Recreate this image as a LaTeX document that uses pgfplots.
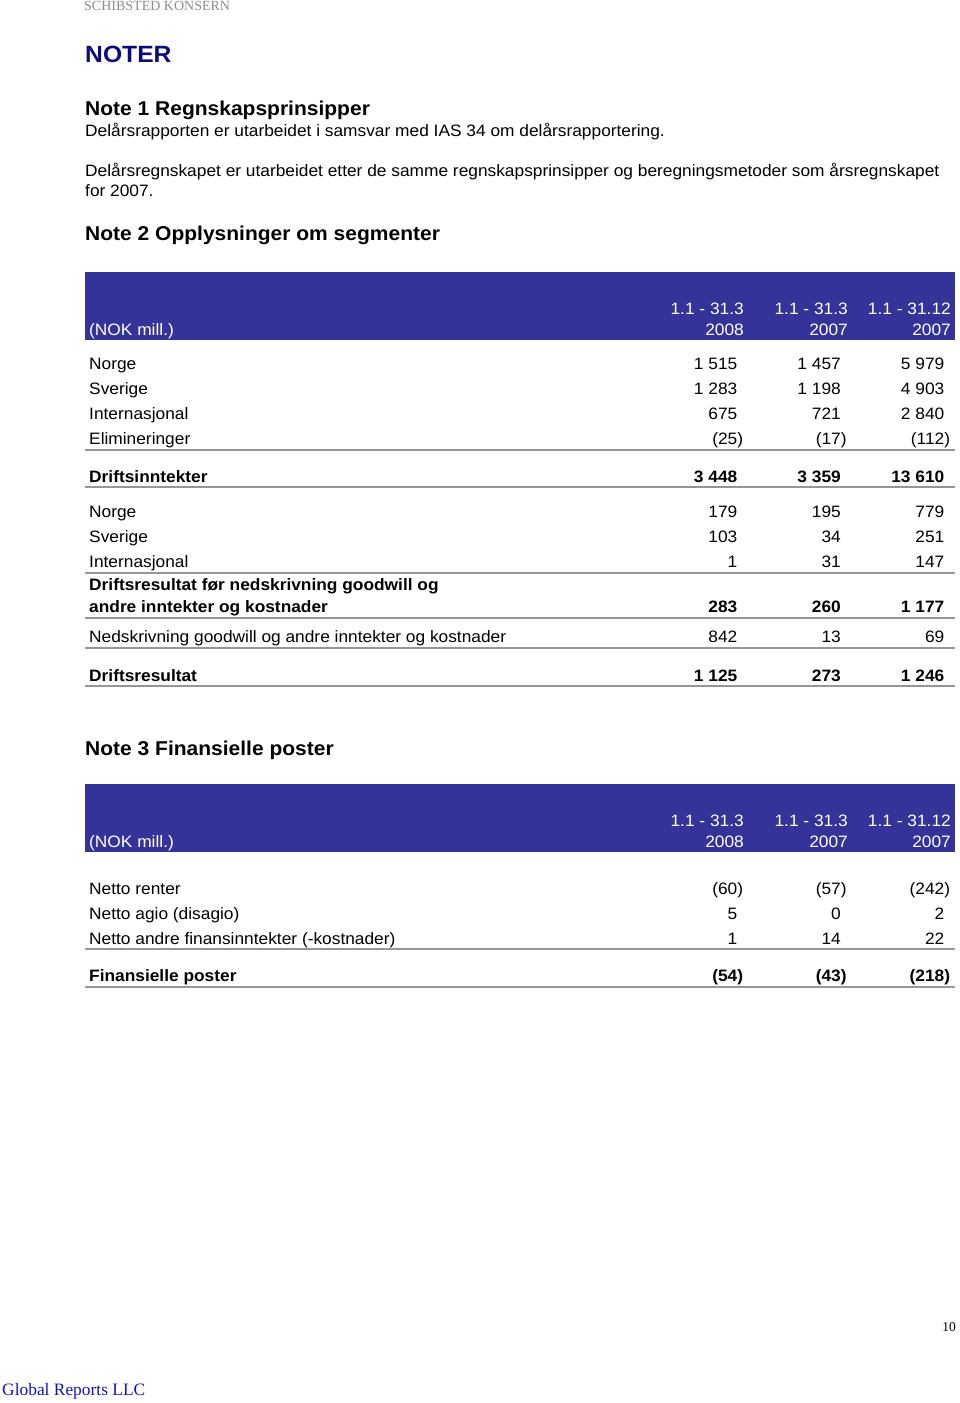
\documentclass[border=0pt]{standalone}
\usepackage{fontspec}
\setmainfont{Liberation Sans}[FakeStretch=1.05]
\newfontfamily\serif{Liberation Serif}
\usepackage{pgfplots}
\pgfplotsset{compat=1.18}

\definecolor{hdr}{RGB}{51,51,153}
\definecolor{navy}{RGB}{12,12,120}
\definecolor{rule}{RGB}{150,150,150}
\definecolor{greyhead}{RGB}{140,140,140}
\definecolor{gr}{RGB}{20,20,190}

\tikzset{
  txt/.style={anchor=base west, inner sep=0pt, font=\fontsize{16.5}{22}\selectfont},
  btxt/.style={txt, font=\fontsize{16.5}{22}\selectfont\bfseries},
  htxt/.style={anchor=base east, inner sep=0pt, text=white, font=\fontsize{16.5}{22}\selectfont},
  head/.style={anchor=base west, inner sep=0pt, font=\fontsize{20}{24}\selectfont\bfseries},
}

\begin{document}
\begin{tikzpicture}
\begin{axis}[
    width=960pt, height=1403pt, scale only axis,
    xmin=0, xmax=960, ymin=0, ymax=1403,
    y dir=reverse,
    hide axis, clip=false,
    point meta=explicit symbolic,
    nodes near coords,
    nodes near coords style={anchor=base east, inner sep=0pt, font=\fontsize{16.5}{22}\selectfont},
]
\path (axis cs:0,0) rectangle (axis cs:960,1403);

% page furniture
\node[anchor=base west, inner sep=0pt, text=greyhead, font=\serif\fontsize{14}{16}\selectfont] at (axis cs:84,10) {SCHIBSTED KONSERN};
\node[anchor=base west, inner sep=0pt, text=navy, font=\fontsize{23.5}{30}\selectfont\bfseries] at (axis cs:85,62) {NOTER};
\node[head] at (axis cs:85,115) {Note 1 Regnskapsprinsipper};
\node[txt] at (axis cs:85,136) {Delårsrapporten er utarbeidet i samsvar med IAS 34 om delårsrapportering.};
\node[txt] at (axis cs:85,176) {Delårsregnskapet er utarbeidet etter de samme regnskapsprinsipper og beregningsmetoder som årsregnskapet};
\node[txt] at (axis cs:85,196) {for 2007.};
\node[head] at (axis cs:85,240) {Note 2 Opplysninger om segmenter};
\node[head] at (axis cs:85,755) {Note 3 Finansielle poster};
\node[anchor=base east, inner sep=0pt, font=\serif\fontsize{13.5}{16}\selectfont] at (axis cs:956,1331) {10};
\node[anchor=base west, inner sep=0pt, text=gr, font=\serif\fontsize{17.4}{20}\selectfont] at (axis cs:2,1395) {Global Reports LLC};

% ---- Note 2 table ----
\fill[hdr] (axis cs:85,272) rectangle (axis cs:955,340);
\node[htxt, anchor=base west] at (axis cs:89,335) {(NOK mill.)};
\node[htxt] at (axis cs:744,314) {1.1 - 31.3};
\node[htxt] at (axis cs:744,335) {2008};
\node[htxt] at (axis cs:848,314) {1.1 - 31.3};
\node[htxt] at (axis cs:848,335) {2007};
\node[htxt] at (axis cs:951,314) {1.1 - 31.12};
\node[htxt] at (axis cs:951,335) {2007};

\node[txt] at (axis cs:89,369) {Norge};
\node[txt] at (axis cs:89,394) {Sverige};
\node[txt] at (axis cs:89,419) {Internasjonal};
\node[txt] at (axis cs:89,444) {Elimineringer};
\node[btxt] at (axis cs:89,482) {Driftsinntekter};
\node[txt] at (axis cs:89,517) {Norge};
\node[txt] at (axis cs:89,542) {Sverige};
\node[txt] at (axis cs:89,567) {Internasjonal};
\node[btxt] at (axis cs:89,590) {Driftsresultat før nedskrivning goodwill og};
\node[btxt] at (axis cs:89,612) {andre inntekter og kostnader};
\node[txt] at (axis cs:89,642) {Nedskrivning goodwill og andre inntekter og kostnader};
\node[btxt] at (axis cs:89,681) {Driftsresultat};

\foreach \yy in {450,487,573,618,648,686} {
  \edef\tmp{\noexpand\draw[rule, line width=1.8pt] (axis cs:85,\yy) -- (axis cs:955,\yy);}
  \tmp
}

% 1.1-31.3 2008
\addplot[draw=none] coordinates {
  (737.5,369) [1 515]
  (737.5,394) [1 283]
  (737.5,419) [675]
  (737.5,444) [(25\rlap{)}]
  (737.5,482) [\textbf{3 448}]
  (737.5,517) [179]
  (737.5,542) [103]
  (737.5,567) [1]
  (737.5,612) [\textbf{283}]
  (737.5,642) [842]
  (737.5,681) [\textbf{1 125}]
};
% 1.1-31.3 2007
\addplot[draw=none] coordinates {
  (841,369) [1 457]
  (841,394) [1 198]
  (841,419) [721]
  (841,444) [(17\rlap{)}]
  (841,482) [\textbf{3 359}]
  (841,517) [195]
  (841,542) [34]
  (841,567) [31]
  (841,612) [\textbf{260}]
  (841,642) [13]
  (841,681) [\textbf{273}]
};
% 1.1-31.12 2007
\addplot[draw=none] coordinates {
  (944.5,369) [5 979]
  (944.5,394) [4 903]
  (944.5,419) [2 840]
  (944.5,444) [(112\rlap{)}]
  (944.5,482) [\textbf{13 610}]
  (944.5,517) [779]
  (944.5,542) [251]
  (944.5,567) [147]
  (944.5,612) [\textbf{1 177}]
  (944.5,642) [69]
  (944.5,681) [\textbf{1 246}]
};

% ---- Note 3 table ----
\fill[hdr] (axis cs:85,784) rectangle (axis cs:955,852);
\node[htxt, anchor=base west] at (axis cs:89,847) {(NOK mill.)};
\node[htxt] at (axis cs:744,826) {1.1 - 31.3};
\node[htxt] at (axis cs:744,847) {2008};
\node[htxt] at (axis cs:848,826) {1.1 - 31.3};
\node[htxt] at (axis cs:848,847) {2007};
\node[htxt] at (axis cs:951,826) {1.1 - 31.12};
\node[htxt] at (axis cs:951,847) {2007};

\node[txt] at (axis cs:89,894) {Netto renter};
\node[txt] at (axis cs:89,919) {Netto agio (disagio)};
\node[txt] at (axis cs:89,944) {Netto andre finansinntekter (-kostnader)};
\node[btxt] at (axis cs:89,981) {Finansielle poster};

\draw[rule, line width=1.8pt] (axis cs:85,949) -- (axis cs:955,949);
\draw[rule, line width=1.8pt] (axis cs:85,987) -- (axis cs:955,987);

\addplot[draw=none] coordinates {
  (737.5,894) [(60\rlap{)}]
  (737.5,919) [5]
  (737.5,944) [1]
  (737.5,981) [\textbf{(54\rlap{)}}]
};
\addplot[draw=none] coordinates {
  (841,894) [(57\rlap{)}]
  (841,919) [0]
  (841,944) [14]
  (841,981) [\textbf{(43\rlap{)}}]
};
\addplot[draw=none] coordinates {
  (944.5,894) [(242\rlap{)}]
  (944.5,919) [2]
  (944.5,944) [22]
  (944.5,981) [\textbf{(218\rlap{)}}]
};
\end{axis}
\end{tikzpicture}
\end{document}
